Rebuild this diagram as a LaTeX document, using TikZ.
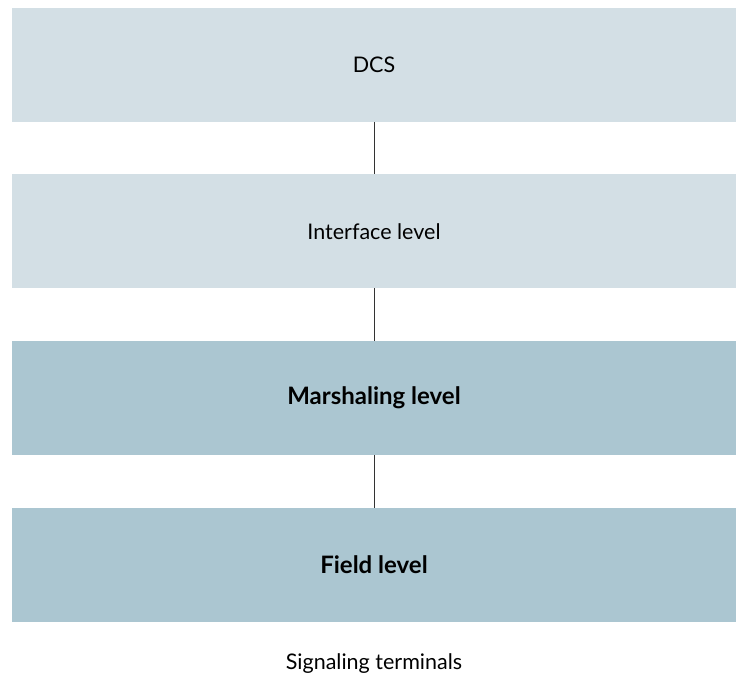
\documentclass[tikz,border=0pt]{standalone}
\usepackage{fontspec}
\setmainfont{Lato}
\usepackage{tikz}
\usetikzlibrary{positioning}
\definecolor{LevLight}{HTML}{D3DFE5}
\definecolor{LevDark}{HTML}{ABC6D1}
\definecolor{Wire}{HTML}{333333}
\tikzset{
  level/.style={minimum width=724pt,minimum height=114pt,inner sep=0pt,outer sep=0pt,font=\fontsize{21.5}{24}\selectfont},
  levlight/.style={level,fill=LevLight},
  levdark/.style={level,fill=LevDark,font=\fontsize{24}{28}\selectfont\bfseries},
  wire/.style={Wire,line width=1pt}
}
\begin{document}
\begin{tikzpicture}[x=1pt,y=1pt,node distance=52.5pt]
\useasboundingbox (0,0) rectangle (736,681);
\node[levlight] (dcs) at (374,616) {DCS};
\node[levlight,below=of dcs] (iface) {Interface level};
\node[levdark,below=of iface] (marsh) {Marshaling level};
\node[levdark,below=of marsh] (field) {Field level};
\node[font=\fontsize{21.5}{24}\selectfont] (term) at (374,17) {Signaling terminals};
\draw[wire] (dcs.south)--(iface.north);
\draw[wire] (iface.south)--(marsh.north);
\draw[wire] (marsh.south)--(field.north);
\end{tikzpicture}
\end{document}
